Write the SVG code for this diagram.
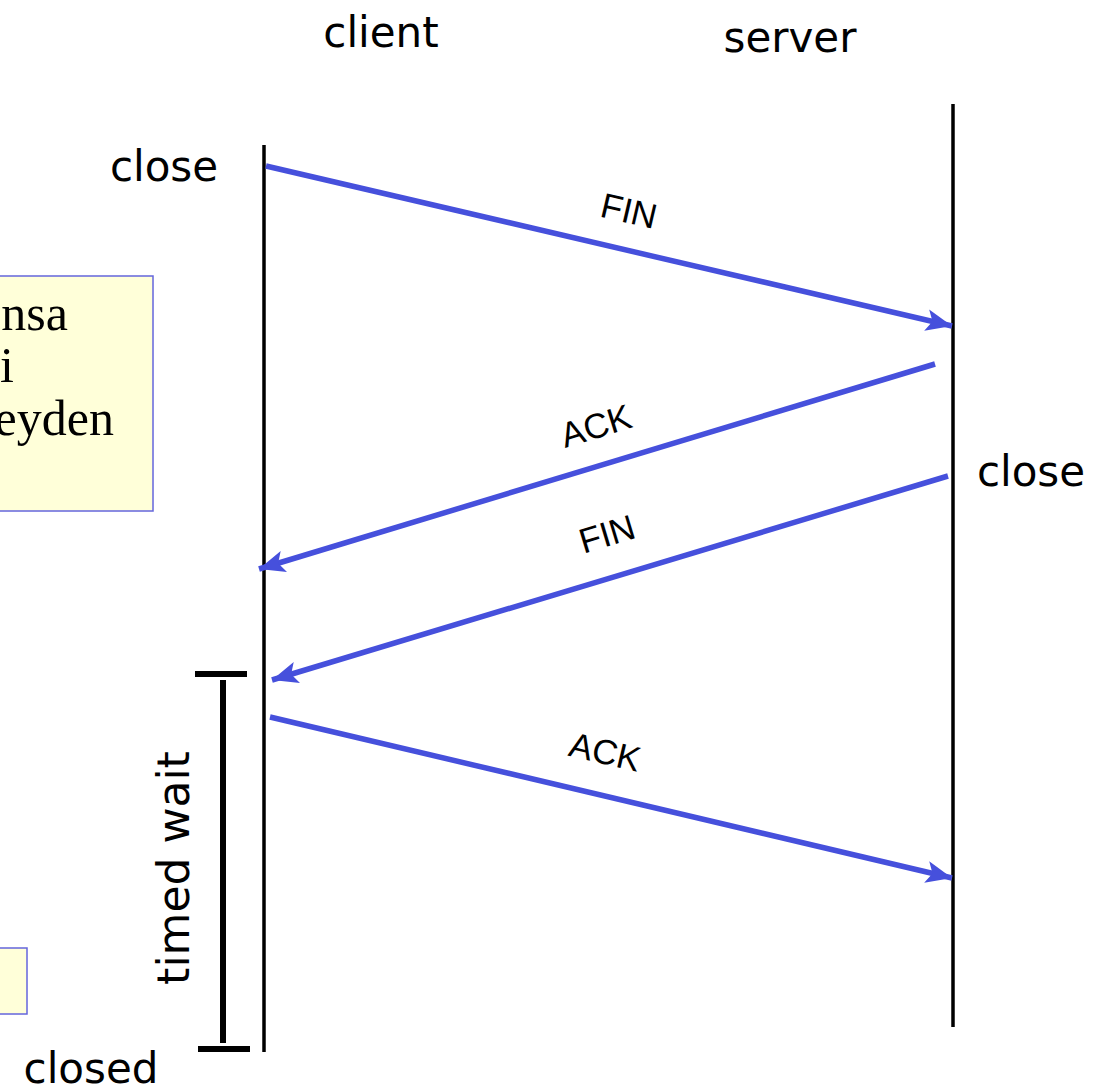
<svg xmlns="http://www.w3.org/2000/svg" width="1095" height="1092" viewBox="0 0 1095 1092">
<style>
.lbl{font-family:"DejaVu Sans","Noto Sans",sans-serif;font-size:42px;fill:#000}
.msg{font-family:"Liberation Sans",Arial,sans-serif;font-size:35px;fill:#000;text-anchor:middle}
.note{font-family:"Liberation Serif","Times New Roman",serif;font-size:50px;fill:#000;text-anchor:end}
.box{fill:#ffffd9;stroke:#6466dc;stroke-width:1.5}
.life{stroke:#000;stroke-width:3.5;fill:none}
.arrow{stroke:#4650dc;stroke-width:5.5;fill:none}
.bar{stroke:#000;stroke-width:6;fill:none}
</style>
<defs>
<marker id="ah" markerUnits="userSpaceOnUse" markerWidth="30" markerHeight="24" refX="26" refY="11" orient="auto">
<path d="M0,0 L26,11 L0,22 L6,11 Z" fill="#4650dc"/>
</marker>
</defs>
<rect width="1095" height="1092" fill="#fff"/>
<g id="note1">
<rect class="box" x="-5" y="276" width="158" height="235"/>
<text class="note" x="68" y="330">nsa</text>
<text class="note" x="14" y="382">i</text>
<text class="note" x="114" y="435">eyden</text>
</g>
<g id="note2">
<rect class="box" x="-5" y="948" width="32" height="66"/>
</g>
<g id="client">
<text class="lbl" x="381" y="47" text-anchor="middle">client</text>
<line class="life" x1="264" y1="145" x2="264" y2="1052"/>
<text class="lbl" x="164" y="181" text-anchor="middle">close</text>
<text class="lbl" x="91" y="1083" text-anchor="middle">closed</text>
</g>
<g id="server">
<text class="lbl" x="790" y="52" text-anchor="middle">server</text>
<line class="life" x1="953" y1="104" x2="953" y2="1027"/>
<text class="lbl" x="1031" y="486" text-anchor="middle">close</text>
</g>
<g id="timedwait">
<line class="bar" x1="195" y1="674" x2="247" y2="674"/>
<line class="bar" x1="223" y1="680" x2="223" y2="1043"/>
<line class="bar" x1="198" y1="1049" x2="250" y2="1049"/>
<text class="lbl" transform="translate(189,868) rotate(-90)" text-anchor="middle" style="font-size:44px">timed wait</text>
</g>
<g id="connectors">
<line class="arrow" x1="266" y1="166" x2="952" y2="326" marker-end="url(#ah)"/>
<line class="arrow" x1="935" y1="364" x2="259" y2="569" marker-end="url(#ah)"/>
<line class="arrow" x1="948" y1="476" x2="272" y2="680" marker-end="url(#ah)"/>
<line class="arrow" x1="270" y1="717" x2="952" y2="878" marker-end="url(#ah)"/>
<text class="msg" transform="translate(629,211) rotate(13.1)" y="12">FIN</text>
<text class="msg" transform="translate(596,426) rotate(-17)" y="12">ACK</text>
<text class="msg" transform="translate(607,534) rotate(-16.8)" y="12">FIN</text>
<text class="msg" transform="translate(605,752) rotate(13.3)" y="12">ACK</text>
</g>
</svg>
